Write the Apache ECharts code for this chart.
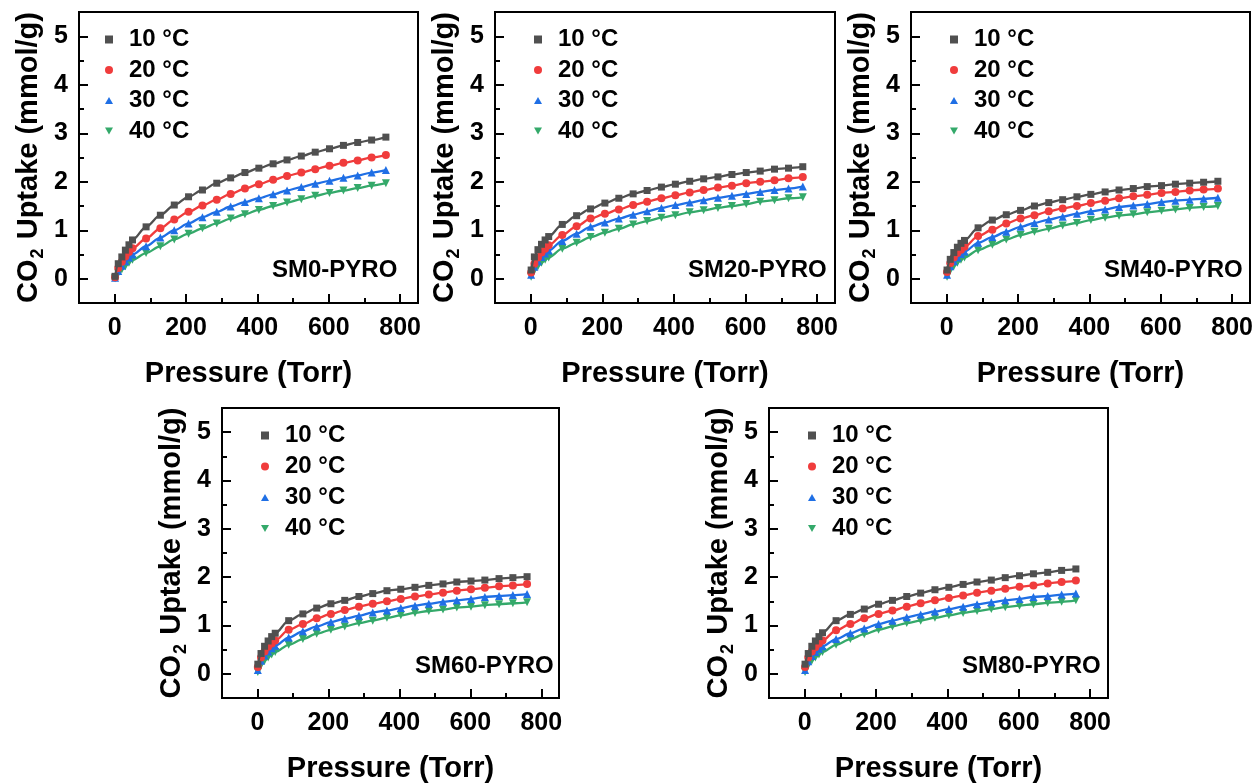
<!DOCTYPE html>
<html>
<head>
<meta charset="utf-8">
<script src="https://cdn.jsdelivr.net/npm/echarts@6/dist/echarts.min.js"></script>
<style>html,body{margin:0;padding:0;background:#fff;}#chart{width:1257px;height:784px;}</style>
</head>
<body>
<div id="chart"></div>
<script>
// ---------- data ----------
const pressure = [1, 10, 20, 30, 40, 50, 88, 128, 167, 207, 246, 286, 325, 365, 404, 444, 483, 523, 562, 602, 641, 681, 720, 760];
const temps = ['10 °C', '20 °C', '30 °C', '40 °C'];
const panelNames = ['SM0-PYRO', 'SM20-PYRO', 'SM40-PYRO', 'SM60-PYRO', 'SM80-PYRO'];
const xMajor = [0, 200, 400, 600, 800];
const xMinor = [100, 300, 500, 700];
const yMajor = [0, 1, 2, 3, 4, 5];
const yMinor = [0.5, 1.5, 2.5, 3.5, 4.5];

const sm0_10 = [0.05, 0.31, 0.45, 0.59, 0.70, 0.80, 1.07, 1.31, 1.52, 1.69, 1.83, 1.97, 2.08, 2.19, 2.28, 2.37, 2.45, 2.53, 2.61, 2.68, 2.75, 2.81, 2.86, 2.92];
const sm0_20 = [0.03, 0.22, 0.35, 0.46, 0.55, 0.63, 0.83, 1.04, 1.22, 1.38, 1.51, 1.63, 1.75, 1.86, 1.95, 2.04, 2.12, 2.19, 2.26, 2.33, 2.39, 2.44, 2.50, 2.55];
const sm0_30 = [0.02, 0.16, 0.27, 0.36, 0.44, 0.50, 0.67, 0.85, 1.00, 1.14, 1.27, 1.38, 1.49, 1.58, 1.66, 1.74, 1.82, 1.89, 1.96, 2.02, 2.08, 2.13, 2.19, 2.24];
const sm0_40 = [0.01, 0.11, 0.19, 0.26, 0.33, 0.39, 0.53, 0.67, 0.81, 0.93, 1.04, 1.14, 1.24, 1.33, 1.42, 1.50, 1.57, 1.64, 1.71, 1.77, 1.82, 1.87, 1.92, 1.97];

const sm20_10 = [0.18, 0.45, 0.60, 0.71, 0.80, 0.87, 1.12, 1.30, 1.44, 1.56, 1.66, 1.75, 1.82, 1.89, 1.95, 2.01, 2.06, 2.10, 2.15, 2.19, 2.22, 2.26, 2.28, 2.31];
const sm20_20 = [0.13, 0.31, 0.44, 0.54, 0.62, 0.69, 0.90, 1.08, 1.24, 1.34, 1.43, 1.52, 1.59, 1.66, 1.72, 1.78, 1.83, 1.88, 1.92, 1.97, 2.00, 2.03, 2.07, 2.10];
const sm20_30 = [0.08, 0.25, 0.36, 0.45, 0.52, 0.58, 0.78, 0.93, 1.07, 1.16, 1.24, 1.32, 1.39, 1.46, 1.52, 1.57, 1.62, 1.67, 1.71, 1.75, 1.79, 1.83, 1.86, 1.90];
const sm20_40 = [0.04, 0.17, 0.26, 0.33, 0.39, 0.44, 0.62, 0.74, 0.86, 0.95, 1.03, 1.12, 1.19, 1.26, 1.31, 1.37, 1.41, 1.46, 1.50, 1.54, 1.59, 1.62, 1.66, 1.68];

const sm40_10 = [0.18, 0.40, 0.54, 0.65, 0.73, 0.79, 1.05, 1.21, 1.32, 1.41, 1.50, 1.57, 1.63, 1.69, 1.74, 1.79, 1.83, 1.86, 1.90, 1.92, 1.95, 1.97, 1.99, 2.01];
const sm40_20 = [0.14, 0.32, 0.44, 0.53, 0.60, 0.66, 0.88, 1.01, 1.14, 1.24, 1.31, 1.39, 1.45, 1.50, 1.56, 1.61, 1.66, 1.70, 1.73, 1.77, 1.79, 1.82, 1.84, 1.86];
const sm40_30 = [0.08, 0.26, 0.36, 0.44, 0.51, 0.56, 0.74, 0.86, 0.97, 1.07, 1.15, 1.22, 1.28, 1.34, 1.39, 1.43, 1.48, 1.51, 1.54, 1.58, 1.61, 1.63, 1.65, 1.67];
const sm40_40 = [0.04, 0.17, 0.26, 0.33, 0.39, 0.44, 0.59, 0.70, 0.81, 0.90, 0.97, 1.03, 1.10, 1.15, 1.21, 1.26, 1.30, 1.33, 1.37, 1.40, 1.43, 1.46, 1.48, 1.50];

const sm60_10 = [0.20, 0.42, 0.57, 0.68, 0.77, 0.84, 1.10, 1.24, 1.36, 1.45, 1.52, 1.60, 1.66, 1.72, 1.75, 1.79, 1.83, 1.86, 1.90, 1.92, 1.94, 1.97, 1.99, 2.01];
const sm60_20 = [0.14, 0.34, 0.46, 0.56, 0.63, 0.69, 0.91, 1.03, 1.15, 1.24, 1.32, 1.39, 1.45, 1.50, 1.55, 1.60, 1.64, 1.68, 1.72, 1.75, 1.78, 1.81, 1.83, 1.86];
const sm60_30 = [0.08, 0.27, 0.38, 0.46, 0.53, 0.58, 0.75, 0.88, 0.98, 1.07, 1.14, 1.20, 1.27, 1.31, 1.36, 1.41, 1.45, 1.49, 1.52, 1.55, 1.59, 1.61, 1.63, 1.65];
const sm60_40 = [0.04, 0.18, 0.27, 0.34, 0.40, 0.45, 0.60, 0.72, 0.83, 0.91, 0.98, 1.05, 1.10, 1.16, 1.21, 1.26, 1.30, 1.33, 1.37, 1.39, 1.42, 1.44, 1.46, 1.48];

const sm80_10 = [0.20, 0.42, 0.57, 0.68, 0.77, 0.85, 1.10, 1.23, 1.34, 1.44, 1.52, 1.60, 1.67, 1.74, 1.79, 1.85, 1.90, 1.94, 1.99, 2.03, 2.07, 2.10, 2.14, 2.17];
const sm80_20 = [0.14, 0.34, 0.46, 0.55, 0.63, 0.69, 0.90, 1.03, 1.15, 1.24, 1.31, 1.39, 1.46, 1.52, 1.57, 1.62, 1.68, 1.72, 1.76, 1.80, 1.83, 1.87, 1.90, 1.93];
const sm80_30 = [0.08, 0.26, 0.37, 0.45, 0.52, 0.57, 0.72, 0.84, 0.94, 1.03, 1.10, 1.17, 1.23, 1.29, 1.34, 1.39, 1.44, 1.48, 1.52, 1.55, 1.59, 1.61, 1.64, 1.66];
const sm80_40 = [0.04, 0.18, 0.27, 0.34, 0.40, 0.45, 0.60, 0.72, 0.82, 0.91, 0.98, 1.05, 1.10, 1.16, 1.21, 1.26, 1.30, 1.34, 1.38, 1.41, 1.44, 1.47, 1.49, 1.52];

const panelData = [
  [sm0_10, sm0_20, sm0_30, sm0_40],
  [sm20_10, sm20_20, sm20_30, sm20_40],
  [sm40_10, sm40_20, sm40_30, sm40_40],
  [sm60_10, sm60_20, sm60_30, sm60_40],
  [sm80_10, sm80_20, sm80_30, sm80_40]
];

// ---------- styling / layout ----------
const FONT = '"Liberation Sans", Arial, Helvetica, sans-serif';
const colors = ['#505050', '#f03c3c', '#1f6fe5', '#34a96a'];
const downTri = 'path://M0,0L10,0L5,9Z';
const upTri = 'path://M5,0L10,9L0,9Z';
const symbols = ['rect', 'circle', 'triangle', downTri];
const legendIcons = ['rect', 'circle', upTri, downTri];
const symSizes = [7, 8, 8, 8];
const grids = [
  {left: 79, top: 12, width: 339, height: 291},
  {left: 495, top: 12, width: 340, height: 291},
  {left: 911, top: 12, width: 339, height: 291},
  {left: 222, top: 408, width: 337, height: 291},
  {left: 769, top: 408, width: 339, height: 291}
];
const legendSymOffset = [30, 43, 43, 43, 43];

const option = {
  animation: false,
  backgroundColor: '#fff',
  grid: [], xAxis: [], yAxis: [], series: [], legend: [], graphic: []
};

const tickLine = {color: '#000', width: 2};
grids.forEach((g, p) => {
  option.grid.push(Object.assign({show: true, borderColor: '#000', borderWidth: 2, backgroundColor: 'transparent', containLabel: false}, g));
  option.xAxis.push({
    gridIndex: p, type: 'value', min: -100, max: 850, position: 'bottom',
    axisLine: {show: true, onZero: false, lineStyle: tickLine},
    axisTick: {show: true, inside: true, length: 9, lineStyle: tickLine, customValues: xMajor},
    axisLabel: {show: true, customValues: xMajor, fontSize: 25, fontWeight: 'bold', color: '#000', fontFamily: FONT, margin: 13},
    splitLine: {show: false},
    name: 'Pressure (Torr)', nameLocation: 'middle', nameGap: 56,
    nameTextStyle: {fontSize: 29, fontWeight: 'bold', color: '#000', fontFamily: FONT}
  });
  option.xAxis.push({
    gridIndex: p, type: 'value', min: -100, max: 850, position: 'bottom',
    axisLine: {show: false, onZero: false},
    axisTick: {show: true, inside: true, length: 5, lineStyle: tickLine, customValues: xMinor},
    axisLabel: {show: false}, splitLine: {show: false}
  });
  option.yAxis.push({
    gridIndex: p, type: 'value', min: -0.5, max: 5.5, position: 'left',
    axisLine: {show: true, onZero: false, lineStyle: tickLine},
    axisTick: {show: true, inside: true, length: 9, lineStyle: tickLine, customValues: yMajor},
    axisLabel: {show: true, customValues: yMajor, fontSize: 25, fontWeight: 'bold', color: '#000', fontFamily: FONT, margin: 11},
    splitLine: {show: false},
    name: '{a|CO}{s|2}{a| Uptake (mmol/g)}', nameLocation: 'middle', nameGap: 36,
    nameTextStyle: {
      color: '#000',
      rich: {
        a: {fontSize: 29, fontWeight: 'bold', fontFamily: FONT, color: '#000', lineHeight: 34, verticalAlign: 'bottom'},
        s: {fontSize: 18, fontWeight: 'bold', fontFamily: FONT, color: '#000', lineHeight: 20, verticalAlign: 'bottom', padding: [0, 1, -4, 1]}
      }
    }
  });
  option.yAxis.push({
    gridIndex: p, type: 'value', min: -0.5, max: 5.5, position: 'left',
    axisLine: {show: false, onZero: false},
    axisTick: {show: true, inside: true, length: 5, lineStyle: tickLine, customValues: yMinor},
    axisLabel: {show: false}, splitLine: {show: false}
  });

  for (let t = 3; t >= 0; t--) {
    const vals = panelData[p][t];
    option.series.push({
      name: temps[t], type: 'line', xAxisIndex: 2 * p, yAxisIndex: 2 * p,
      data: pressure.map((x, i) => [x, vals[i]]),
      smooth: 0.3, smoothMonotone: 'x',
      symbol: symbols[t], symbolSize: symSizes[t], showSymbol: true,
      itemStyle: {color: colors[t]},
      lineStyle: {color: colors[t], width: 2.3},
      z: 3 + (3 - t)
    });
  }

  option.legend.push({
    orient: 'vertical', left: g.left + legendSymOffset[p] - 4, top: g.top + 12.5,
    padding: 0, itemWidth: 8, itemHeight: 8, itemGap: p >= 3 ? 1 : 0.5,
    selectedMode: false,
    textStyle: {fontSize: 24, fontWeight: 'bold', color: '#000', fontFamily: FONT, lineHeight: 30, padding: [0, 0, 0, 11]},
    data: temps.map((n, t) => ({name: n, icon: legendIcons[t], itemStyle: {color: colors[t]}}))
  });

  option.graphic.push({
    type: 'text', x: g.left + 193, y: g.top + 258, z: 10,
    style: {text: panelNames[p], font: 'bold 24px ' + FONT, fill: '#000', textAlign: 'left', textVerticalAlign: 'middle'}
  });
});

const chart = echarts.init(document.getElementById('chart'), null, {renderer: 'canvas'});
chart.setOption(option);
</script>
</body>
</html>
